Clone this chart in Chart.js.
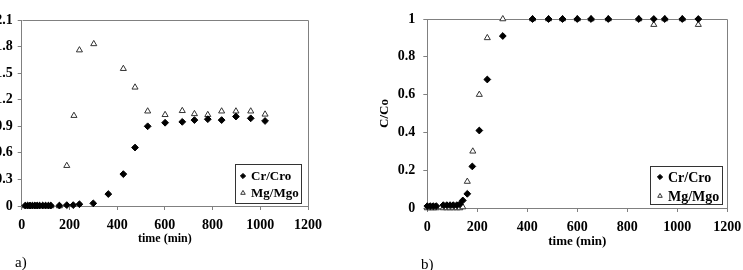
<!DOCTYPE html>
<html>
<head>
<meta charset="utf-8">
<script src="https://cdn.jsdelivr.net/npm/chart.js@4"></script>
<style>
  html, body { margin: 0; padding: 0; background: #fff; }
  #wrap { position: relative; width: 743px; height: 270px; overflow: hidden; }
  canvas { position: absolute; top: 0; }
  #chartA { left: 0; }
  #chartB { left: 370px; }
  .tag { position: absolute; font-family: "Liberation Serif", serif; font-size: 15px; color: #000; }
</style>
</head>
<body>
<div id="wrap">
  <canvas id="chartA" width="370" height="270"></canvas>
  <canvas id="chartB" width="373" height="270"></canvas>
  <div class="tag" style="left:15px; top:254px;">a)</div>
  <div class="tag" style="left:421px; top:256px;">b)</div>
</div>
<script>
// ---- data, panel a ----
const timeCrA = [15, 25, 35, 45, 55, 65, 75, 88, 100, 112, 122, 158, 189, 216, 242, 300, 363, 426, 475, 528, 601, 673, 724, 780, 838, 898, 960, 1020];
const crA     = [0.005, 0.005, 0.005, 0.005, 0.005, 0.005, 0.005, 0.005, 0.005, 0.005, 0.005, 0.005, 0.01, 0.01, 0.02, 0.03, 0.135, 0.36, 0.66, 0.9, 0.94, 0.95, 0.97, 0.98, 0.97, 1.01, 0.99, 0.96];
const timeMgA = [15, 25, 35, 45, 55, 65, 75, 88, 100, 112, 122, 158, 189, 219, 242, 302, 426, 475, 528, 601, 673, 724, 780, 838, 898, 960, 1020];
const mgA     = [0, 0, 0, 0, 0, 0, 0, 0, 0, 0, 0, 0, 0.455, 1.02, 1.76, 1.83, 1.55, 1.34, 1.07, 1.03, 1.075, 1.04, 1.03, 1.07, 1.07, 1.07, 1.035];
const yTicksA = [0, 0.3, 0.6, 0.9, 1.2, 1.5, 1.8, 2.1];

// ---- data, panel b ----
const timeCrB = [0, 12, 24, 36, 64, 78, 91, 104, 118, 130, 142, 160, 180, 208, 240, 302, 421, 485, 541, 600, 655, 724, 846, 906, 950, 1020, 1084];
const crB     = [0.01, 0.01, 0.01, 0.01, 0.015, 0.015, 0.015, 0.015, 0.015, 0.02, 0.04, 0.075, 0.22, 0.41, 0.68, 0.91, 1, 1, 1, 1, 1, 1, 1, 1, 1, 1, 1];
const timeMgB = [0, 12, 24, 36, 64, 78, 91, 104, 118, 130, 142, 160, 182, 208, 240, 302, 421, 485, 541, 600, 655, 724, 846, 906, 950, 1020, 1084];
const mgB     = [0, 0, 0, 0, 0, 0, 0, 0, 0, 0, 0.005, 0.14, 0.3, 0.6, 0.9, 1, 1, 1, 1, 1, 1, 1, 1, 0.97, 1, 1, 0.97];
const yTicksB = [0, 0.2, 0.4, 0.6, 0.8, 1];

const xTicks = [0, 200, 400, 600, 800, 1000, 1200];
const seriesNames = ['Cr/Cro', 'Mg/Mgo'];

const SERIF = '"Liberation Serif", "Times New Roman", serif';
const AXIS_GRAY = '#808080';

const toPoints = (xs, ys) => xs.map((x, i) => ({ x: x, y: ys[i] }));

// gray box round the plot area (top and right sides)
const frame = {
    id: 'frame',
    beforeDatasetsDraw(chart) {
        const a = chart.chartArea, ctx = chart.ctx;
        ctx.save();
        ctx.strokeStyle = AXIS_GRAY;
        ctx.lineWidth = 1;
        const l = Math.round(a.left) + 0.5, t = Math.round(a.top) + 0.5;
        const r = Math.round(a.right) + 0.5, b = Math.round(a.bottom) + 0.5;
        ctx.beginPath();
        ctx.moveTo(l, t); ctx.lineTo(r, t); ctx.lineTo(r, b);
        ctx.stroke();
        ctx.restore();
    }
};

// boxed legend sitting in the bottom-right corner of the plot
const boxLegend = {
    id: 'boxLegend',
    afterDatasetsDraw(chart, args, o) {
        const ctx = chart.ctx, a = chart.chartArea;
        const x = Math.round(a.right - o.dx - o.w), y = Math.round(a.bottom - o.dy - o.h);
        ctx.save();
        ctx.fillStyle = '#fff';
        ctx.fillRect(x, y, o.w, o.h);
        ctx.strokeStyle = '#333';
        ctx.lineWidth = 1;
        ctx.strokeRect(x + 0.5, y + 0.5, o.w, o.h);
        ctx.font = 'bold ' + o.size + 'px ' + SERIF;
        ctx.textBaseline = 'middle';
        chart.data.datasets.forEach((ds, i) => {
            const cy = y + o.rows[i];
            ctx.fillStyle = ds.backgroundColor;
            ctx.strokeStyle = ds.borderColor;
            ctx.lineWidth = ds.borderWidth;
            Chart.helpers.drawPoint(ctx, { pointStyle: ds.pointStyle, radius: o.r, borderWidth: ds.borderWidth }, x + o.mx, cy);
            ctx.fillStyle = '#000';
            ctx.fillText(ds.label, x + o.tx, cy + 1);
        });
        ctx.restore();
    }
};

function fmt(v) {
    if (v === 0 || v === 1) return String(v);
    return v.toFixed(1);
}

function buildChart(id, cfg) {
    const tickFont = { family: SERIF, weight: 'bold', size: 14 };
    return new Chart(document.getElementById(id), {
        type: 'scatter',
        data: {
            datasets: [
                {
                    label: seriesNames[0],
                    data: toPoints(cfg.crT, cfg.cr),
                    pointStyle: 'rectRot',
                    pointRadius: 3.4,
                    backgroundColor: '#000',
                    borderColor: '#000',
                    borderWidth: 1,
                    clip: false
                },
                {
                    label: seriesNames[1],
                    data: toPoints(cfg.mgT, cfg.mg),
                    pointStyle: 'triangle',
                    pointRadius: 3.5,
                    backgroundColor: '#fff',
                    borderColor: '#333',
                    borderWidth: 1,
                    clip: false
                }
            ]
        },
        options: {
            responsive: false,
            animation: false,
            events: [],
            layout: { padding: cfg.padding },
            plugins: {
                legend: { display: false },
                tooltip: { enabled: false },
                boxLegend: cfg.legend
            },
            scales: {
                x: {
                    type: 'linear',
                    min: 0,
                    max: 1200,
                    afterBuildTicks: s => { s.ticks = xTicks.map(v => ({ value: v })); },
                    afterFit: s => { s.height = cfg.xHeight; s.paddingLeft = 0; s.paddingRight = 0; },
                    grid: { drawOnChartArea: false, drawTicks: true, tickLength: 4, color: AXIS_GRAY },
                    border: { color: AXIS_GRAY },
                    ticks: { color: '#000', font: tickFont, padding: 7, maxRotation: 0, callback: v => String(v) },
                    title: {
                        display: true,
                        text: 'time (min)',
                        color: '#000',
                        font: { family: SERIF, weight: 'bold', size: cfg.titleSize },
                        padding: 0
                    }
                },
                y: {
                    type: 'linear',
                    min: 0,
                    max: cfg.yMax,
                    afterBuildTicks: s => { s.ticks = cfg.yTicks.map(v => ({ value: v })); },
                    afterFit: s => { s.width = cfg.yWidth; s.paddingTop = 0; s.paddingBottom = 0; },
                    grid: { drawOnChartArea: false, drawTicks: true, tickLength: 4, color: AXIS_GRAY },
                    border: { color: AXIS_GRAY },
                    ticks: { color: '#000', font: tickFont, padding: cfg.yPad, callback: v => fmt(v) },
                    title: cfg.yTitle
                }
            }
        },
        plugins: [frame, boxLegend]
    });
}

buildChart('chartA', {
    crT: timeCrA, cr: crA, mgT: timeMgA, mg: mgA,
    yMax: 2.1, yTicks: yTicksA,
    padding: { left: 0, right: 62, top: 20, bottom: 24 },
    xHeight: 40, yWidth: 21.7, yPad: 5, titleSize: 12,
    yTitle: { display: false },
    legend: { w: 66, h: 39, dx: 7, dy: 3, mx: 8, tx: 16, rows: [12, 29], r: 2.6, size: 13 }
});

buildChart('chartB', {
    crT: timeCrB, cr: crB, mgT: timeMgB, mg: mgB,
    yMax: 1, yTicks: yTicksB,
    padding: { left: 0, right: 15.7, top: 19, bottom: 21 },
    xHeight: 41, yWidth: 57.3, yPad: 8, titleSize: 13,
    yTitle: {
        display: true,
        text: 'C/Co',
        color: '#000',
        font: { family: SERIF, weight: 'bold', size: 13 },
        padding: { top: 7, bottom: 0 }
    },
    legend: { w: 72, h: 38, dx: 5, dy: 4, mx: 10, tx: 18, rows: [11, 30], r: 2.6, size: 14 }
});
</script>
</body>
</html>
